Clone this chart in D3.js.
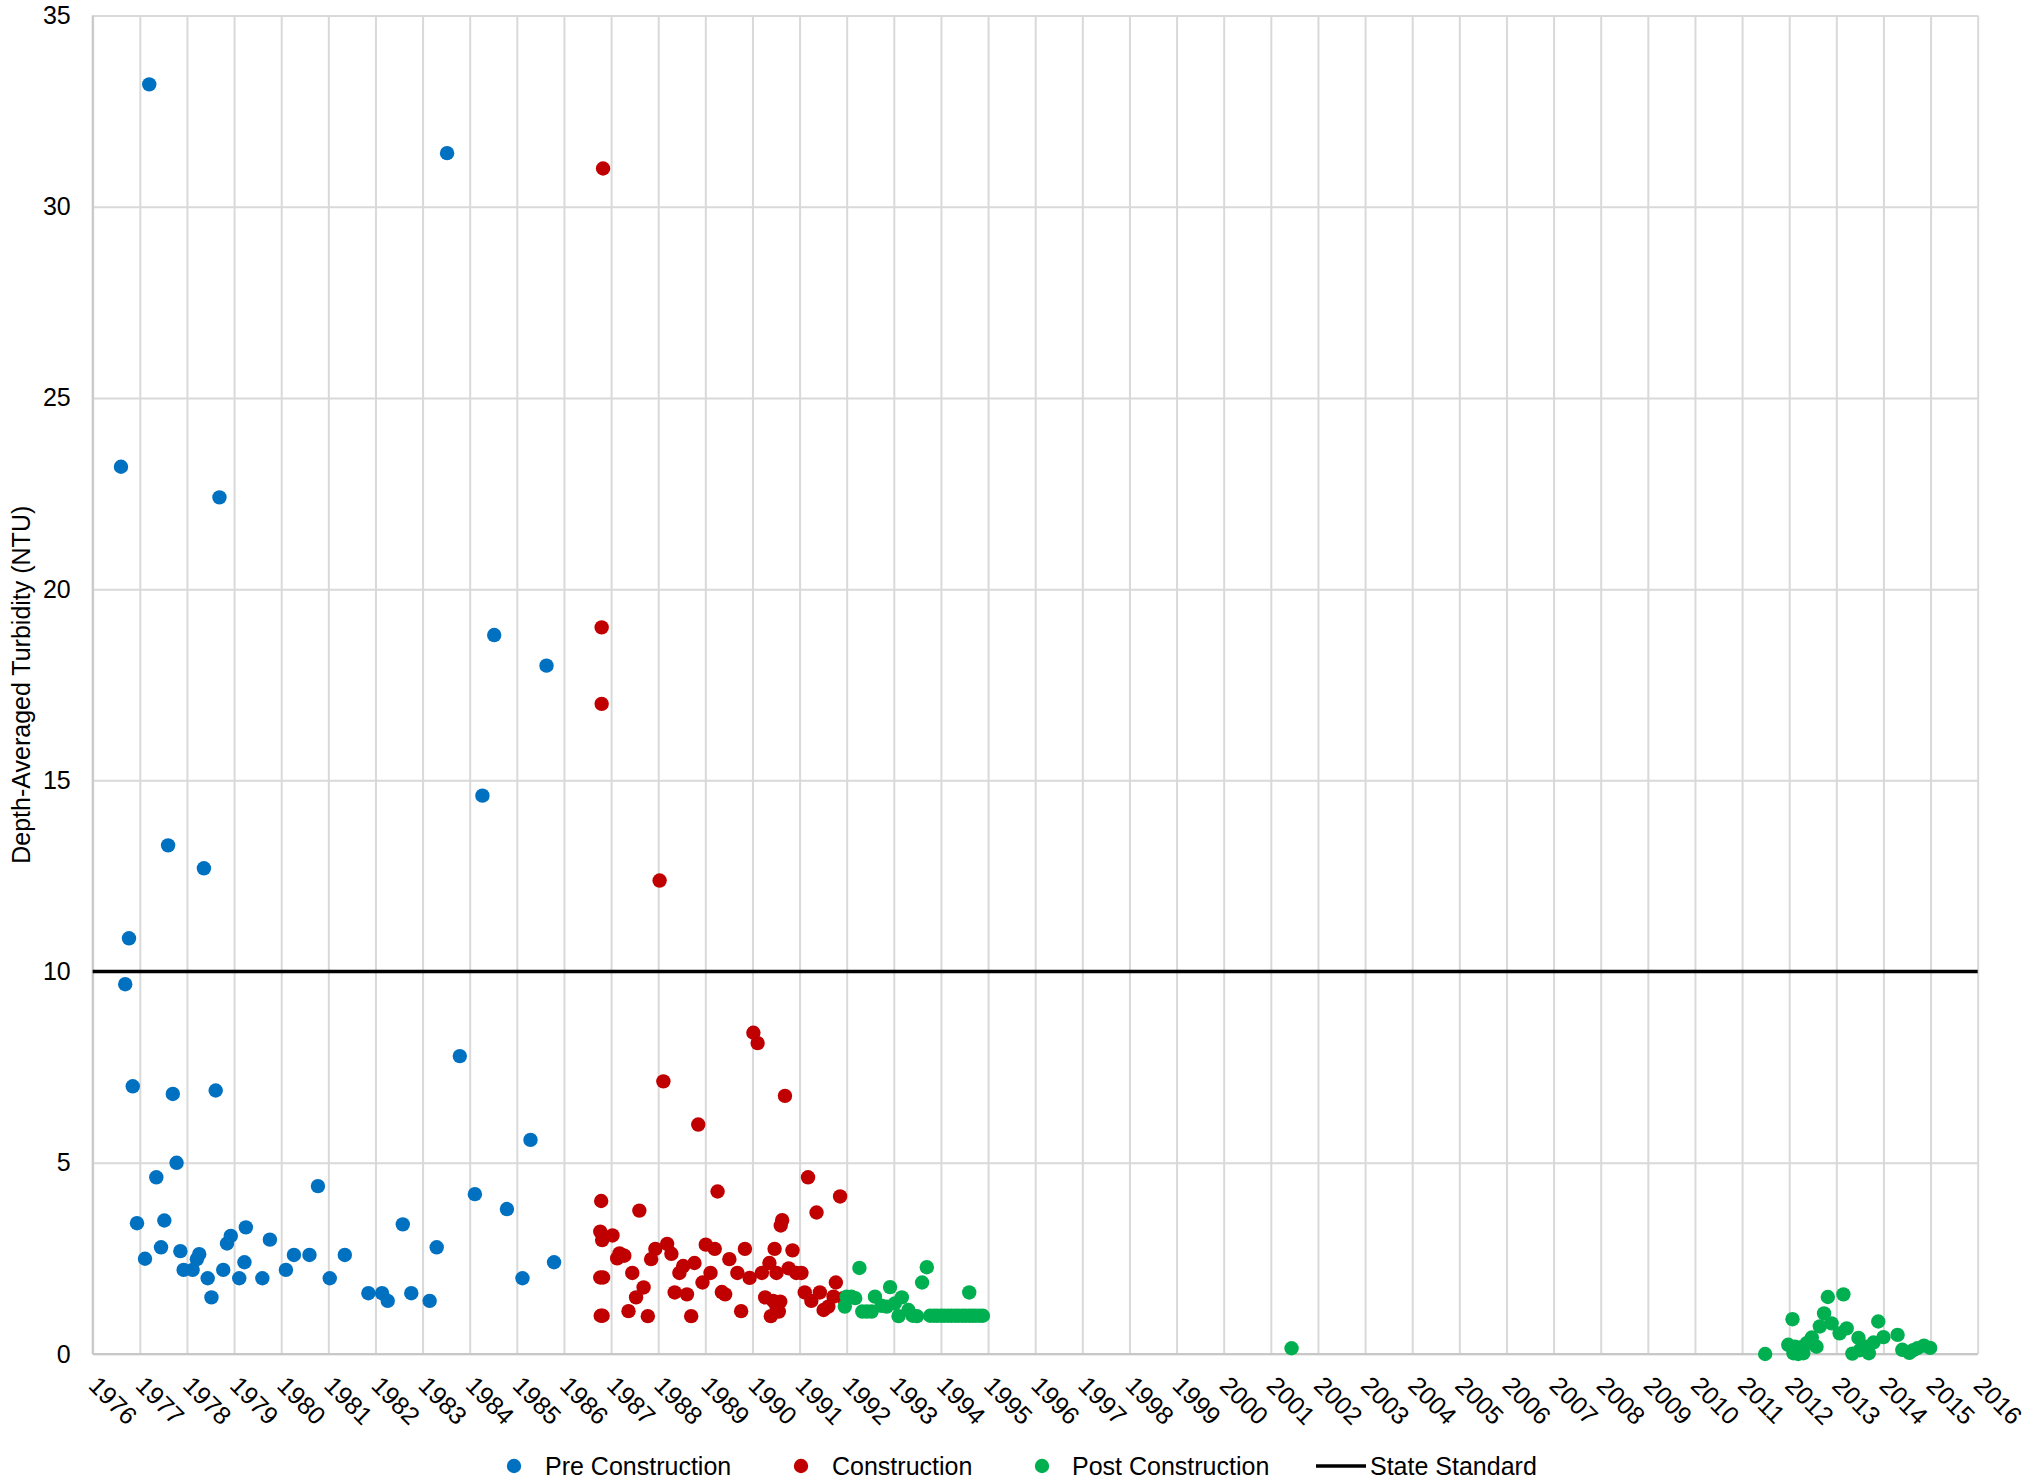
<!DOCTYPE html>
<html>
<head>
<meta charset="utf-8">
<script src="https://cdn.jsdelivr.net/npm/d3@7"></script>
<style>
  html, body { margin: 0; padding: 0; background: #ffffff; }
  svg { display: block; font-family: "Liberation Sans", Arial, sans-serif; }
</style>
</head>
<body>
<svg id="chart" width="2038" height="1484"></svg>
<script>
// Axis ticks
const yearTicks = [1976, 1977, 1978, 1979, 1980, 1981, 1982, 1983, 1984, 1985, 1986, 1987, 1988,
  1989, 1990, 1991, 1992, 1993, 1994, 1995, 1996, 1997, 1998, 1999, 2000, 2001, 2002, 2003, 2004,
  2005, 2006, 2007, 2008, 2009, 2010, 2011, 2012, 2013, 2014, 2015, 2016];
const turbidityTicks = [0, 5, 10, 15, 20, 25, 30, 35];

const seriesNames = ["Pre Construction", "Construction", "Post Construction", "State Standard"];
const yAxisTitle = "Depth-Averaged Turbidity (NTU)";

// Sample date (decimal year), depth-averaged turbidity (NTU)
const preConstruction = [
  [1976.60, 23.2], [1976.69, 9.67], [1976.77, 10.87], [1976.85, 7.0], [1976.94, 3.42],
  [1977.11, 2.49], [1977.20, 33.2], [1977.35, 4.62], [1977.45, 2.79], [1977.52, 3.49],
  [1977.60, 13.3], [1977.70, 6.8], [1977.78, 5.0], [1977.86, 2.69], [1977.93, 2.2],
  [1978.12, 2.2], [1978.21, 2.48], [1978.26, 2.61], [1978.36, 12.7], [1978.44, 1.98],
  [1978.52, 1.48], [1978.61, 6.89], [1978.69, 22.4], [1978.77, 2.2], [1978.85, 2.89],
  [1978.93, 3.09], [1979.11, 1.98], [1979.22, 2.4], [1979.25, 3.31], [1979.60, 1.98],
  [1979.76, 2.99], [1980.10, 2.2], [1980.27, 2.59], [1980.60, 2.59], [1980.78, 4.39],
  [1981.03, 1.98], [1981.35, 2.59], [1981.85, 1.59], [1982.14, 1.59], [1982.26, 1.39],
  [1982.58, 3.39], [1982.76, 1.59], [1983.15, 1.39], [1983.30, 2.79], [1983.52, 31.4],
  [1983.79, 7.79], [1984.11, 4.18], [1984.27, 14.6], [1984.52, 18.8], [1984.79, 3.79],
  [1985.12, 1.98], [1985.29, 5.6], [1985.63, 18.0], [1985.79, 2.4]
];

const construction = [
  [1986.78, 1.0], [1986.82, 1.0], [1986.77, 2.0], [1986.83, 2.0], [1986.81, 2.98],
  [1986.77, 3.2], [1986.79, 4.0], [1986.80, 17.0], [1986.80, 19.0], [1986.83, 31.0],
  [1987.03, 3.1], [1987.13, 2.5], [1987.18, 2.63], [1987.28, 2.57], [1987.37, 1.12],
  [1987.45, 2.12], [1987.53, 1.48], [1987.60, 3.75], [1987.69, 1.74], [1987.78, 0.99],
  [1987.85, 2.48], [1987.94, 2.75], [1988.03, 12.38], [1988.11, 7.13], [1988.19, 2.88],
  [1988.28, 2.62], [1988.35, 1.61], [1988.45, 2.12], [1988.53, 2.3], [1988.61, 1.56],
  [1988.70, 0.99], [1988.77, 2.38], [1988.85, 6.0], [1988.94, 1.87], [1989.01, 2.86],
  [1989.11, 2.12], [1989.20, 2.75], [1989.26, 4.25], [1989.35, 1.62], [1989.42, 1.56],
  [1989.51, 2.48], [1989.68, 2.12], [1989.76, 1.12], [1989.84, 2.75], [1989.94, 1.99],
  [1990.02, 8.4], [1990.11, 8.13], [1990.20, 2.12], [1990.27, 1.48], [1990.36, 2.38],
  [1990.39, 0.99], [1990.44, 1.39], [1990.47, 2.75], [1990.51, 2.12], [1990.51, 1.24],
  [1990.56, 1.11], [1990.59, 1.37], [1990.60, 3.36], [1990.63, 3.5], [1990.69, 6.75],
  [1990.77, 2.24], [1990.85, 2.71], [1990.93, 2.12], [1991.04, 2.12], [1991.11, 1.61],
  [1991.18, 4.62], [1991.25, 1.39], [1991.36, 3.7], [1991.43, 1.61], [1991.51, 1.15],
  [1991.61, 1.24], [1991.72, 1.5], [1991.77, 1.87], [1991.86, 4.12], [1991.93, 1.46]
];

const postConstruction = [
  [1991.96, 1.24], [1992.00, 1.50], [1992.10, 1.50], [1992.18, 1.46], [1992.27, 2.25],
  [1992.33, 1.11], [1992.43, 1.11], [1992.53, 1.11], [1992.60, 1.50], [1992.74, 1.26],
  [1992.85, 1.24], [1992.92, 1.75], [1993.02, 1.32], [1993.10, 0.99], [1993.17, 1.48],
  [1993.31, 1.15], [1993.40, 1.0], [1993.49, 0.99], [1993.60, 1.87], [1993.70, 2.27],
  [1993.77, 1.0], [1993.85, 1.0], [1993.92, 1.0], [1994.00, 1.0], [1994.07, 1.0],
  [1994.15, 1.0], [1994.22, 1.0], [1994.30, 1.0], [1994.37, 1.0], [1994.45, 1.0],
  [1994.52, 1.0], [1994.60, 1.61], [1994.60, 1.0], [1994.67, 1.0], [1994.74, 1.0],
  [1994.82, 1.0], [1994.89, 1.0],
  [2001.44, 0.15],
  [2011.49, 0.0], [2011.98, 0.24], [2012.07, 0.91], [2012.09, 0.02], [2012.12, 0.19],
  [2012.19, 0.0], [2012.23, 0.17], [2012.30, 0.02], [2012.37, 0.28], [2012.48, 0.43],
  [2012.58, 0.19], [2012.65, 0.72], [2012.74, 1.06], [2012.82, 1.49], [2012.90, 0.80],
  [2013.07, 0.54], [2013.15, 1.56], [2013.22, 0.67], [2013.34, 0.01], [2013.47, 0.42],
  [2013.50, 0.10], [2013.61, 0.19], [2013.69, 0.02], [2013.79, 0.30], [2013.89, 0.85],
  [2014.00, 0.44], [2014.30, 0.50], [2014.40, 0.11], [2014.55, 0.03], [2014.63, 0.10],
  [2014.72, 0.15], [2014.86, 0.22], [2014.99, 0.16]
];

const stateStandard = 10;

const seriesColors = ["#0070C0", "#C00000", "#00B050", "#000000"];

// Layout
const plotLeft = 92.7, plotRight = 1977.7, plotTop = 15.5, plotBottom = 1354;
const fontSize = 25;
const markerR = 7.2;

const svg = d3.select("#chart");

const x = d3.scaleLinear().domain([yearTicks[0], yearTicks[yearTicks.length - 1]]).range([plotLeft, plotRight]);
const y = d3.scaleLinear().domain([0, 35]).range([plotBottom, plotTop]);

// Horizontal gridlines + value labels
const yAxis = svg.append("g")
  .attr("transform", `translate(${plotLeft},0)`)
  .call(d3.axisLeft(y).tickValues(turbidityTicks).tickSize(-(plotRight - plotLeft)).tickPadding(22).tickFormat(d3.format("d")));
yAxis.select(".domain").remove();
yAxis.selectAll(".tick line").attr("stroke", "#d9d9d9").attr("stroke-width", 2);
yAxis.selectAll(".tick text")
  .attr("fill", "#000").attr("font-size", fontSize)
  .attr("font-family", "'Liberation Sans', Arial, sans-serif");

// Vertical gridlines + rotated year labels
const xAxis = svg.append("g")
  .attr("transform", `translate(0,${plotBottom})`)
  .call(d3.axisBottom(x).tickValues(yearTicks).tickSize(-(plotBottom - plotTop)).tickFormat(d3.format("d")));
xAxis.select(".domain").remove();
xAxis.selectAll(".tick line").attr("stroke", "#d9d9d9").attr("stroke-width", 2);
xAxis.selectAll(".tick text")
  .attr("x", 0).attr("y", 0).attr("dy", 0)
  .attr("text-anchor", "start")
  .attr("transform", "translate(-6,33) rotate(45)")
  .attr("fill", "#000").attr("font-size", fontSize)
  .attr("font-family", "'Liberation Sans', Arial, sans-serif");

// Axis lines
svg.append("line")
  .attr("x1", plotLeft).attr("x2", plotLeft).attr("y1", plotTop).attr("y2", plotBottom)
  .attr("stroke", "#c8c8c8").attr("stroke-width", 2);
svg.append("line")
  .attr("x1", plotLeft).attr("x2", plotRight).attr("y1", plotBottom).attr("y2", plotBottom)
  .attr("stroke", "#c8c8c8").attr("stroke-width", 2);

// Scatter series
const pointSeries = [preConstruction, construction, postConstruction];
pointSeries.forEach((data, i) => {
  svg.append("g")
    .selectAll("circle")
    .data(data)
    .join("circle")
    .attr("cx", d => x(d[0]))
    .attr("cy", d => y(d[1]))
    .attr("r", markerR)
    .attr("fill", seriesColors[i]);
});

// State standard threshold
svg.append("line")
  .attr("x1", x.range()[0]).attr("x2", x.range()[1])
  .attr("y1", y(stateStandard)).attr("y2", y(stateStandard))
  .attr("stroke", seriesColors[3]).attr("stroke-width", 3.5);

// Y axis title
svg.append("text")
  .attr("transform", `translate(30,${(plotTop + plotBottom) / 2}) rotate(-90)`)
  .attr("text-anchor", "middle")
  .attr("font-size", fontSize)
  .attr("fill", "#000")
  .text(yAxisTitle);

// Legend
const legendY = 1466;
const legendItems = [
  { name: seriesNames[0], color: seriesColors[0], mark: "dot", mx: 514, tx: 545 },
  { name: seriesNames[1], color: seriesColors[1], mark: "dot", mx: 801, tx: 832 },
  { name: seriesNames[2], color: seriesColors[2], mark: "dot", mx: 1042, tx: 1072 },
  { name: seriesNames[3], color: seriesColors[3], mark: "line", mx: 1316, tx: 1370 }
];
const legend = svg.append("g");
legendItems.forEach(item => {
  if (item.mark === "dot") {
    legend.append("circle").attr("cx", item.mx).attr("cy", legendY).attr("r", markerR).attr("fill", item.color);
  } else {
    legend.append("line").attr("x1", item.mx).attr("x2", item.mx + 50)
      .attr("y1", legendY).attr("y2", legendY)
      .attr("stroke", item.color).attr("stroke-width", 3.5);
  }
  legend.append("text")
    .attr("x", item.tx).attr("y", legendY).attr("dy", "0.35em")
    .attr("font-size", fontSize).attr("fill", "#000")
    .text(item.name);
});
</script>
</body>
</html>
